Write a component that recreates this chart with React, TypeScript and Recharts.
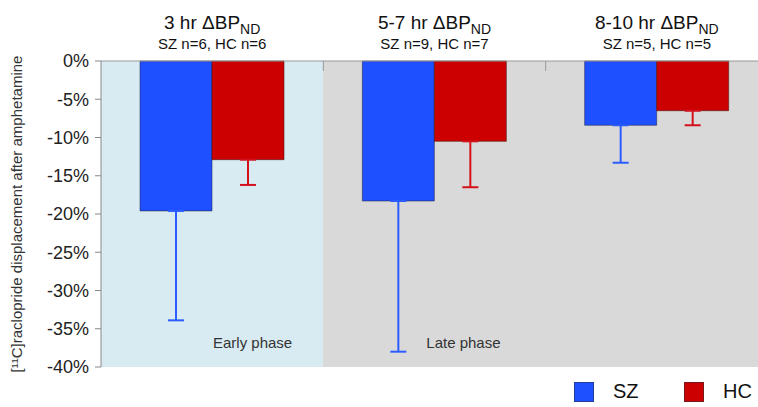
import React from "react";
import { BarChart, Bar, XAxis, YAxis, ErrorBar, ReferenceArea, Legend, Label } from "recharts";

const FONT = '"Liberation Sans", Arial, Helvetica, sans-serif';

const categories = ["3 hr", "5-7 hr", "8-10 hr"];
const groupSizes = ["SZ n=6, HC n=6", "SZ n=9, HC n=7", "SZ n=5, HC n=5"];
const szMean = [-19.6, -18.3, -8.4];
const szErr = [14.3, 19.7, 4.9];
const hcMean = [-12.9, -10.5, -6.5];
const hcErr = [3.3, 6.0, 1.9];
const yTicks = [0, -5, -10, -15, -20, -25, -30, -35, -40];
const phaseLabels = ["Early phase", "Late phase"];
const seriesNames = ["SZ", "HC"];
const yLabel = "[¹¹C]raclopride displacement after amphetamine";

const data = categories.map((c, i) => ({
  cat: c,
  sz: szMean[i],
  szE: [szErr[i], 0],
  hc: hcMean[i],
  hcE: [hcErr[i], 0],
}));

const BLUE = "#1e50ff";
const RED = "#cc0000";
const EARLY_BG = "#d8ebf2";
const LATE_BG = "#d9d9d9";
const AXIS = "#999";

const TopTick = (props: any) => {
  const { x, y, payload } = props;
  const i = categories.indexOf(payload.value);
  return (
    <g>
      <text x={x} y={y - 32.5} textAnchor="middle" fontSize={19} fill="#111" fontFamily={FONT}>
        <tspan>{payload.value} ΔBP</tspan>
        <tspan dy={5} fontSize={14}>ND</tspan>
      </text>
      <text x={x} y={y - 12} textAnchor="middle" fontSize={15} fill="#111" fontFamily={FONT}>
        {groupSizes[i]}
      </text>
    </g>
  );
};

const phaseLabel = (text: string, dx: number) => (props: any) => {
  const vb = props.viewBox || {};
  return (
    <text x={vb.x + dx} y={vb.y + vb.height - 19} fontSize={15} fill="#333" fontFamily={FONT}>
      {text}
    </text>
  );
};

const areaShape = (color: string, divider: boolean) => (props: any) => {
  const { x, y, width, height } = props;
  return (
    <g>
      <rect x={x} y={y} width={width} height={height} fill={color} stroke="none" shapeRendering="crispEdges" />
      {divider && <line x1={x} x2={x} y1={y} y2={y + 10} stroke={AXIS} strokeWidth={1} />}
    </g>
  );
};

const YLabelContent = (props: any) => {
  const vb = props.viewBox || {};
  const cx = 16;
  const cy = vb.y + vb.height / 2;
  return (
    <text
      x={cx}
      y={cy}
      transform={`rotate(-90, ${cx}, ${cy})`}
      textAnchor="middle"
      dominantBaseline="central"
      fontSize={15}
      fill="#333"
      fontFamily={FONT}
    >
      {yLabel}
    </text>
  );
};

const renderLegend = (props: any) => {
  const payload = props.payload || [];
  const lefts = [574, 684];
  return (
    <div style={{ position: "relative", width: 758, height: 40, fontFamily: FONT }}>
      {seriesNames.map((n, i) => {
        const p = payload.find((q: any) => q.value === n);
        const color = p ? p.color : i === 0 ? BLUE : RED;
        return (
          <div key={n} style={{ position: "absolute", left: lefts[i], top: 15, height: 19, display: "flex", alignItems: "center" }}>
            <div style={{ width: 18, height: 18, background: color, border: "1px solid rgba(40,40,60,0.5)" }} />
            <span style={{ marginLeft: 19, fontSize: 20, color: "#111" }}>{n}</span>
          </div>
        );
      })}
    </div>
  );
};

export default function App() {
  return (
    <div style={{ position: "absolute", left: 0, top: 0, width: 758, height: 407, overflow: "hidden", background: "#fff", fontFamily: FONT }}>
      <BarChart
        width={770}
        height={407}
        data={data}
        margin={{ top: 6, right: 2, left: 0, bottom: 0 }}
        barGap={0}
        barSize={72}
      >
        <ReferenceArea
          x1={categories[0]}
          x2={categories[0]}
          ifOverflow="visible"
          shape={areaShape(EARLY_BG, false)}
          label={phaseLabel(phaseLabels[0], 112)}
        />
        <ReferenceArea
          x1={categories[1]}
          x2={categories[1]}
          ifOverflow="visible"
          shape={areaShape(LATE_BG, true)}
          label={phaseLabel(phaseLabels[1], 103)}
        />
        <ReferenceArea
          x1={categories[2]}
          x2={categories[2]}
          ifOverflow="visible"
          shape={areaShape(LATE_BG, true)}
        />
        <XAxis
          dataKey="cat"
          orientation="top"
          height={55}
          tickLine={false}
          axisLine={{ stroke: AXIS }}
          tickSize={0}
          tickMargin={0}
          tick={<TopTick />}
          interval={0}
        />
        <YAxis
          type="number"
          domain={[-40, 0]}
          ticks={yTicks}
          width={101}
          interval={0}
          tickSize={6}
          tickMargin={6}
          tickFormatter={(v: number) => `${v}%`}
          tick={{ fontSize: 18, fill: "#222" }}
          tickLine={{ stroke: "#888" }}
          axisLine={{ stroke: "#888" }}
        >
          <Label content={<YLabelContent />} />
        </YAxis>
        <Legend verticalAlign="bottom" content={renderLegend} wrapperStyle={{ left: 0, width: 758, height: 40 }} />
        <Bar dataKey="sz" name={seriesNames[0]} fill={BLUE} stroke="rgba(40,40,70,0.55)" strokeWidth={1} isAnimationActive={false}>
          <ErrorBar dataKey="szE" width={8} strokeWidth={2} stroke="#2a5cff" direction="y" />
        </Bar>
        <Bar dataKey="hc" name={seriesNames[1]} fill={RED} stroke="rgba(70,20,20,0.55)" strokeWidth={1} isAnimationActive={false}>
          <ErrorBar dataKey="hcE" width={8} strokeWidth={2} stroke="#d4101c" direction="y" />
        </Bar>
      </BarChart>
    </div>
  );
}
